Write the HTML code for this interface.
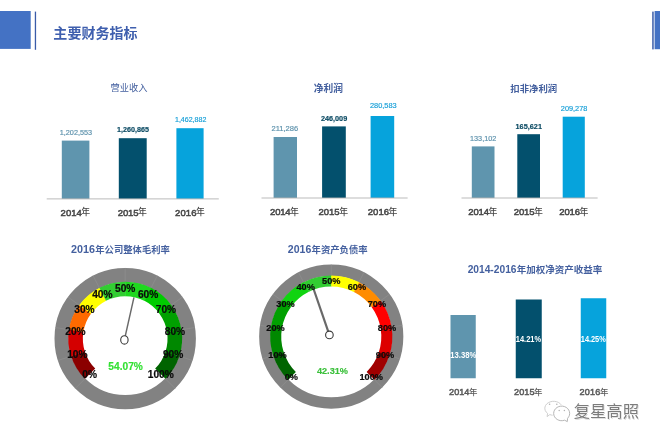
<!DOCTYPE html>
<html lang="zh"><head><meta charset="utf-8"><title>主要财务指标</title>
<style>
html,body{margin:0;padding:0;background:#fff;}
body{width:660px;height:440px;overflow:hidden;font-family:"Liberation Sans",sans-serif;}
svg{display:block;will-change:transform;font-family:"Liberation Sans",sans-serif;}
</style></head><body>
<svg width="660" height="440" viewBox="0 0 660 440">
<rect x="0" y="11" width="30.7" height="37.9" fill="#4472c4"/>
<rect x="34.8" y="11.6" width="1.3" height="38.2" fill="#3a5ca8"/>
<rect x="652.2" y="11.6" width="1.5" height="37.8" fill="#3a5ca8"/>
<rect x="654.6" y="11" width="5.4" height="38.2" fill="#4472c4"/>
<text x="53.37" y="38.13" font-size="14.02" font-weight="bold" fill="#3f5fae" font-family="'Liberation Sans','Noto Sans CJK SC',sans-serif">主要财务指标</text>
<text x="110.52" y="91.36" font-size="9.28" fill="#44609f" font-family="'Liberation Sans','Noto Sans CJK SC',sans-serif">营业收入</text>
<rect x="61.8" y="140.6" width="27.6" height="58.3" fill="#5f95ae"/>
<rect x="118.8" y="138.2" width="27.9" height="60.7" fill="#03506d"/>
<rect x="176.4" y="128.2" width="27.2" height="70.7" fill="#06a3dc"/>
<rect x="46.7" y="198.45" width="172.1" height="0.9" fill="#b3b3b3"/>
<text transform="translate(59.75 134.64) scale(1.0 0.9)" font-size="7.28" fill="#5f93ad" stroke="#5f93ad" stroke-width="0.18">1,202,553</text>
<text transform="translate(117.05 132.31) scale(1.0 0.9)" font-size="7.18" font-weight="bold" fill="#0b4a63" stroke="#0b4a63" stroke-width="0.18">1,260,865</text>
<text transform="translate(174.96 121.67) scale(1.0 0.9)" font-size="7.06" fill="#1aa0d8" stroke="#1aa0d8" stroke-width="0.18">1,462,882</text>
<text x="60.62" y="215.6" font-size="9.5" fill="#464646" stroke="#464646" stroke-width=".5" letter-spacing="-0.01">2014</text><text x="81.35" y="215.47" font-size="8.83" font-weight="500" fill="#464646" font-family="'Liberation Sans','Noto Sans CJK SC',sans-serif">年</text>
<text x="117.82" y="215.6" font-size="9.5" fill="#464646" stroke="#464646" stroke-width=".5" letter-spacing="-0.13">2015</text><text x="137.95" y="215.47" font-size="8.83" font-weight="500" fill="#464646" font-family="'Liberation Sans','Noto Sans CJK SC',sans-serif">年</text>
<text x="175.02" y="215.6" font-size="9.5" fill="#464646" stroke="#464646" stroke-width=".5" letter-spacing="0.1">2016</text><text x="196.05" y="215.47" font-size="8.83" font-weight="500" fill="#464646" font-family="'Liberation Sans','Noto Sans CJK SC',sans-serif">年</text>
<text x="313.77" y="91.78" font-size="9.72" font-weight="bold" fill="#44609f" font-family="'Liberation Sans','Noto Sans CJK SC',sans-serif">净利润</text>
<rect x="273.6" y="137" width="23.4" height="61" fill="#5f95ae"/>
<rect x="322.1" y="126.4" width="23.7" height="71.6" fill="#03506d"/>
<rect x="370.6" y="116" width="23.6" height="82" fill="#06a3dc"/>
<rect x="261.5" y="197.55" width="146.1" height="0.9" fill="#b3b3b3"/>
<text transform="translate(271.42 131.24) scale(1.0 0.9)" font-size="7.58" fill="#5f93ad" stroke="#5f93ad" stroke-width="0.18">211,286</text>
<text transform="translate(320.95 121.15) scale(1.0 0.9)" font-size="7.28" font-weight="bold" fill="#0b4a63" stroke="#0b4a63" stroke-width="0.18">246,009</text>
<text transform="translate(369.93 108.39) scale(1.0 0.9)" font-size="7.41" fill="#1aa0d8" stroke="#1aa0d8" stroke-width="0.18">280,583</text>
<text x="270.12" y="215.4" font-size="9.5" fill="#464646" stroke="#464646" stroke-width=".5" letter-spacing="-0.21">2014</text><text x="290.05" y="215.27" font-size="8.83" font-weight="500" fill="#464646" font-family="'Liberation Sans','Noto Sans CJK SC',sans-serif">年</text>
<text x="318.52" y="215.4" font-size="9.5" fill="#464646" stroke="#464646" stroke-width=".5" letter-spacing="-0">2015</text><text x="339.15" y="215.27" font-size="8.83" font-weight="500" fill="#464646" font-family="'Liberation Sans','Noto Sans CJK SC',sans-serif">年</text>
<text x="367.72" y="215.4" font-size="9.5" fill="#464646" stroke="#464646" stroke-width=".5" letter-spacing="0.05">2016</text><text x="388.55" y="215.27" font-size="8.83" font-weight="500" fill="#464646" font-family="'Liberation Sans','Noto Sans CJK SC',sans-serif">年</text>
<text x="510.37" y="91.75" font-size="9.39" font-weight="bold" fill="#44609f" font-family="'Liberation Sans','Noto Sans CJK SC',sans-serif">扣非净利润</text>
<rect x="471.8" y="146.4" width="22.7" height="51.6" fill="#5f95ae"/>
<rect x="517.3" y="134.2" width="22.7" height="63.8" fill="#03506d"/>
<rect x="562.7" y="116.7" width="22.1" height="81.3" fill="#06a3dc"/>
<rect x="461.5" y="197.55" width="136.1" height="0.9" fill="#b3b3b3"/>
<text transform="translate(470.05 141.15) scale(1.0 0.9)" font-size="7.28" fill="#5f93ad" stroke="#5f93ad" stroke-width="0.18">133,102</text>
<text transform="translate(515.54 128.76) scale(1.0 0.9)" font-size="7.32" font-weight="bold" fill="#0b4a63" stroke="#0b4a63" stroke-width="0.18">165,621</text>
<text transform="translate(560.83 111.46) scale(1.0 0.9)" font-size="7.33" fill="#1aa0d8" stroke="#1aa0d8" stroke-width="0.18">209,278</text>
<text x="468.32" y="215.3" font-size="9.5" fill="#464646" stroke="#464646" stroke-width=".5" letter-spacing="-0.13">2014</text><text x="488.55" y="215.17" font-size="8.83" font-weight="500" fill="#464646" font-family="'Liberation Sans','Noto Sans CJK SC',sans-serif">年</text>
<text x="513.72" y="215.3" font-size="9.5" fill="#464646" stroke="#464646" stroke-width=".5" letter-spacing="-0.1">2015</text><text x="533.95" y="215.17" font-size="8.83" font-weight="500" fill="#464646" font-family="'Liberation Sans','Noto Sans CJK SC',sans-serif">年</text>
<text x="559.22" y="215.3" font-size="9.5" fill="#464646" stroke="#464646" stroke-width=".5" letter-spacing="-0.1">2016</text><text x="579.45" y="215.17" font-size="8.83" font-weight="500" fill="#464646" font-family="'Liberation Sans','Noto Sans CJK SC',sans-serif">年</text>
<text x="467.65" y="273.13" font-size="10.23" font-weight="bold" fill="#44609f">2014-2016</text><text x="516.85" y="273.33" font-size="9.51" font-weight="bold" fill="#44609f" font-family="'Liberation Sans','Noto Sans CJK SC',sans-serif">年加权净资产收益率</text>
<rect x="450.5" y="315" width="25.25" height="63.25" fill="#5f95ae"/>
<rect x="515.75" y="299.5" width="26" height="78.75" fill="#03506d"/>
<rect x="580.75" y="298.25" width="25.5" height="80" fill="#06a3dc"/>
<text transform="translate(450.22 358.2) scale(0.88 1.0)" font-size="8.74" font-weight="bold" fill="#ffffff">13.38%</text>
<text transform="translate(515.78 342.2) scale(0.88 1.0)" font-size="8.48" font-weight="bold" fill="#ffffff">14.21%</text>
<text transform="translate(580.79 342.2) scale(0.88 1.0)" font-size="8.38" font-weight="bold" fill="#ffffff">14.25%</text>
<text x="449.04" y="395.4" font-size="9.08" fill="#595959" stroke="#595959" stroke-width=".5" letter-spacing="0.05">2014</text><text x="469.12" y="395.28" font-size="8.44" font-weight="500" fill="#595959" font-family="'Liberation Sans','Noto Sans CJK SC',sans-serif">年</text>
<text x="514.04" y="395.4" font-size="9.08" fill="#595959" stroke="#595959" stroke-width=".5" letter-spacing="0.08">2015</text><text x="534.12" y="395.28" font-size="8.44" font-weight="500" fill="#595959" font-family="'Liberation Sans','Noto Sans CJK SC',sans-serif">年</text>
<text x="579.54" y="395.4" font-size="9.08" fill="#595959" stroke="#595959" stroke-width=".5" letter-spacing="0.16">2016</text><text x="599.92" y="395.28" font-size="8.44" font-weight="500" fill="#595959" font-family="'Liberation Sans','Noto Sans CJK SC',sans-serif">年</text>
<text x="71.03" y="253.12" font-size="10.77" font-weight="bold" fill="#44609f">2016</text><text x="95.25" y="253.32" font-size="9.33" font-weight="bold" fill="#44609f" font-family="'Liberation Sans','Noto Sans CJK SC',sans-serif">年公司整体毛利率</text>
<circle cx="125.2" cy="338.6" r="63.58" fill="none" stroke="#828282" stroke-width="14.25"/>
<path d="M84.93 378.87L75.21 388.59M71.04 356.2L57.96 360.45M68.95 329.69L55.37 327.54M79.13 305.13L68 297.04M99.35 287.86L93.1 275.61M125.2 281.65L125.2 267.9M151.05 287.86L157.3 275.61M171.27 305.13L182.4 297.04M181.45 329.69L195.03 327.54M179.36 356.2L192.44 360.45M165.47 378.87L175.19 388.59" stroke="#929292" stroke-width="0.6" fill="none"/>
<path d="M84.93 378.87A56.95 56.95 0 0 1 70.92 355.82L84.83 351.41A42.35 42.35 0 0 0 95.25 368.55Z" fill="#8b0000"/>
<path d="M71.04 356.2A56.95 56.95 0 0 1 69.01 329.3L83.42 331.68A42.35 42.35 0 0 0 84.92 351.69Z" fill="#d40000"/>
<path d="M68.95 329.69A56.95 56.95 0 0 1 79.36 304.8L91.11 313.47A42.35 42.35 0 0 0 83.37 331.98Z" fill="#ff6a00"/>
<path d="M79.13 305.13A56.95 56.95 0 0 1 99.7 287.68L106.24 300.73A42.35 42.35 0 0 0 90.94 313.71Z" fill="#ffff00"/>
<path d="M99.35 287.86A56.95 56.95 0 0 1 125.6 281.65L125.5 296.25A42.35 42.35 0 0 0 105.97 300.87Z" fill="#32cd32"/>
<path d="M125.2 281.65A56.95 56.95 0 0 1 151.41 288.04L144.69 301A42.35 42.35 0 0 0 125.2 296.25Z" fill="#1fd81f"/>
<path d="M151.05 287.86A56.95 56.95 0 0 1 171.51 305.45L159.63 313.95A42.35 42.35 0 0 0 144.43 300.87Z" fill="#00cc00"/>
<path d="M171.27 305.13A56.95 56.95 0 0 1 181.51 330.08L167.07 332.27A42.35 42.35 0 0 0 159.46 313.71Z" fill="#00a000"/>
<path d="M181.45 329.69A56.95 56.95 0 0 1 179.24 356.58L165.38 351.97A42.35 42.35 0 0 0 167.03 331.98Z" fill="#008800"/>
<path d="M179.36 356.2A56.95 56.95 0 0 1 165.47 378.87L155.15 368.55A42.35 42.35 0 0 0 165.48 351.69Z" fill="#006400"/>
<path d="M124.4 339.9L133.95 297.4" stroke="#696969" stroke-width="1.45" fill="none"/>
<ellipse cx="124.4" cy="339.9" rx="3.7" ry="4.2" fill="#fff" stroke="#3a3a3a" stroke-width="1.1"/>
<text transform="translate(89.6 378.1) scale(.98 1.02)" font-size="10.4" font-weight="bold" text-anchor="middle" fill="#0a0a0a" stroke="#0a0a0a" stroke-width=".2">0%</text>
<text transform="translate(77.31 358.06) scale(.98 1.02)" font-size="10.4" font-weight="bold" text-anchor="middle" fill="#0a0a0a" stroke="#0a0a0a" stroke-width=".2">10%</text>
<text transform="translate(75.47 334.62) scale(.98 1.02)" font-size="10.4" font-weight="bold" text-anchor="middle" fill="#0a0a0a" stroke="#0a0a0a" stroke-width=".2">20%</text>
<text transform="translate(84.47 312.9) scale(.98 1.02)" font-size="10.4" font-weight="bold" text-anchor="middle" fill="#0a0a0a" stroke="#0a0a0a" stroke-width=".2">30%</text>
<text transform="translate(102.34 297.64) scale(.98 1.02)" font-size="10.4" font-weight="bold" text-anchor="middle" fill="#0a0a0a" stroke="#0a0a0a" stroke-width=".2">40%</text>
<text transform="translate(125.2 292.15) scale(.98 1.02)" font-size="10.4" font-weight="bold" text-anchor="middle" fill="#0a0a0a" stroke="#0a0a0a" stroke-width=".2">50%</text>
<text transform="translate(148.06 297.64) scale(.98 1.02)" font-size="10.4" font-weight="bold" text-anchor="middle" fill="#0a0a0a" stroke="#0a0a0a" stroke-width=".2">60%</text>
<text transform="translate(165.93 312.9) scale(.98 1.02)" font-size="10.4" font-weight="bold" text-anchor="middle" fill="#0a0a0a" stroke="#0a0a0a" stroke-width=".2">70%</text>
<text transform="translate(174.93 334.62) scale(.98 1.02)" font-size="10.4" font-weight="bold" text-anchor="middle" fill="#0a0a0a" stroke="#0a0a0a" stroke-width=".2">80%</text>
<text transform="translate(173.09 358.06) scale(.98 1.02)" font-size="10.4" font-weight="bold" text-anchor="middle" fill="#0a0a0a" stroke="#0a0a0a" stroke-width=".2">90%</text>
<text transform="translate(160.8 378.1) scale(.98 1.02)" font-size="10.4" font-weight="bold" text-anchor="middle" fill="#0a0a0a" stroke="#0a0a0a" stroke-width=".2">100%</text>
<text transform="translate(125.6 370.1) scale(.98 1.02)" font-size="10.4" font-weight="bold" text-anchor="middle" fill="#33e033" stroke="#33e033" stroke-width=".15">54.07%</text>
<text x="287.83" y="252.82" font-size="10.54" font-weight="bold" fill="#44609f">2016</text><text x="311.55" y="253.02" font-size="9.36" font-weight="bold" fill="#44609f" font-family="'Liberation Sans','Noto Sans CJK SC',sans-serif">年资产负债率</text>
<circle cx="331.25" cy="336.6" r="66.35" fill="none" stroke="#828282" stroke-width="11.5"/>
<path d="M288.05 379.8L280.27 387.58M273.14 355.48L262.68 358.88M270.9 327.04L260.04 325.32M281.82 300.69L272.92 294.22M303.51 282.16L298.52 272.36M331.25 275.5L331.25 264.5M358.99 282.16L363.98 272.36M380.68 300.69L389.58 294.22M391.6 327.04L402.46 325.32M389.36 355.48L399.82 358.88M374.45 379.8L382.23 387.58" stroke="#929292" stroke-width="0.6" fill="none"/>
<path d="M288.05 379.8A61.1 61.1 0 0 1 273.01 355.07L283.54 351.73A50.05 50.05 0 0 0 295.86 371.99Z" fill="#006400"/>
<path d="M273.14 355.48A61.1 61.1 0 0 1 270.97 326.62L281.87 328.43A50.05 50.05 0 0 0 283.65 352.07Z" fill="#008800"/>
<path d="M270.9 327.04A61.1 61.1 0 0 1 282.07 300.34L290.97 306.9A50.05 50.05 0 0 0 281.82 328.77Z" fill="#00a000"/>
<path d="M281.82 300.69A61.1 61.1 0 0 1 303.89 281.97L308.84 291.85A50.05 50.05 0 0 0 290.76 307.18Z" fill="#10d410"/>
<path d="M303.51 282.16A61.1 61.1 0 0 1 331.68 275.5L331.6 286.55A50.05 50.05 0 0 0 308.53 292.01Z" fill="#32cd32"/>
<path d="M331.25 275.5A61.1 61.1 0 0 1 359.37 282.35L354.28 292.16A50.05 50.05 0 0 0 331.25 286.55Z" fill="#ffff00"/>
<path d="M358.99 282.16A61.1 61.1 0 0 1 380.93 301.03L371.95 307.46A50.05 50.05 0 0 0 353.97 292.01Z" fill="#ff8c00"/>
<path d="M380.68 300.69A61.1 61.1 0 0 1 391.66 327.46L380.74 329.12A50.05 50.05 0 0 0 371.74 307.18Z" fill="#ff0000"/>
<path d="M391.6 327.04A61.1 61.1 0 0 1 389.23 355.89L378.74 352.4A50.05 50.05 0 0 0 380.68 328.77Z" fill="#dd0000"/>
<path d="M389.36 355.48A61.1 61.1 0 0 1 374.45 379.8L366.64 371.99A50.05 50.05 0 0 0 378.85 352.07Z" fill="#a00000"/>
<path d="M329.4 334.9L313.5 288.75" stroke="#696969" stroke-width="2.2" fill="none"/>
<ellipse cx="329.4" cy="334.9" rx="3.8" ry="3.8" fill="#fff" stroke="#3a3a3a" stroke-width="1.1"/>
<text transform="translate(291.32 380.07) scale(.98 1.02)" font-size="9.4" font-weight="bold" text-anchor="middle" fill="#0a0a0a" stroke="#0a0a0a" stroke-width=".2">0%</text>
<text transform="translate(277.54 357.58) scale(.98 1.02)" font-size="9.4" font-weight="bold" text-anchor="middle" fill="#0a0a0a" stroke="#0a0a0a" stroke-width=".2">10%</text>
<text transform="translate(275.47 331.3) scale(.98 1.02)" font-size="9.4" font-weight="bold" text-anchor="middle" fill="#0a0a0a" stroke="#0a0a0a" stroke-width=".2">20%</text>
<text transform="translate(285.56 306.94) scale(.98 1.02)" font-size="9.4" font-weight="bold" text-anchor="middle" fill="#0a0a0a" stroke="#0a0a0a" stroke-width=".2">30%</text>
<text transform="translate(305.61 289.81) scale(.98 1.02)" font-size="9.4" font-weight="bold" text-anchor="middle" fill="#0a0a0a" stroke="#0a0a0a" stroke-width=".2">40%</text>
<text transform="translate(331.25 283.66) scale(.98 1.02)" font-size="9.4" font-weight="bold" text-anchor="middle" fill="#0a0a0a" stroke="#0a0a0a" stroke-width=".2">50%</text>
<text transform="translate(356.89 289.81) scale(.98 1.02)" font-size="9.4" font-weight="bold" text-anchor="middle" fill="#0a0a0a" stroke="#0a0a0a" stroke-width=".2">60%</text>
<text transform="translate(376.94 306.94) scale(.98 1.02)" font-size="9.4" font-weight="bold" text-anchor="middle" fill="#0a0a0a" stroke="#0a0a0a" stroke-width=".2">70%</text>
<text transform="translate(387.03 331.3) scale(.98 1.02)" font-size="9.4" font-weight="bold" text-anchor="middle" fill="#0a0a0a" stroke="#0a0a0a" stroke-width=".2">80%</text>
<text transform="translate(384.96 357.58) scale(.98 1.02)" font-size="9.4" font-weight="bold" text-anchor="middle" fill="#0a0a0a" stroke="#0a0a0a" stroke-width=".2">90%</text>
<text transform="translate(371.18 380.07) scale(.98 1.02)" font-size="9.4" font-weight="bold" text-anchor="middle" fill="#0a0a0a" stroke="#0a0a0a" stroke-width=".2">100%</text>
<text transform="translate(332.45 373.53) scale(.98 1.02)" font-size="9.4" font-weight="bold" text-anchor="middle" fill="#3cc03c" stroke="#3cc03c" stroke-width=".15">42.31%</text>
<text x="574.46" y="417.79" font-size="16.34" fill="#d4d4d4" font-family="'Liberation Sans','Noto Sans CJK SC',sans-serif">复星高照</text>
<text x="573.66" y="416.99" font-size="16.34" fill="#7c7c7c" stroke="#fff" stroke-width="0.57" paint-order="stroke" font-family="'Liberation Sans','Noto Sans CJK SC',sans-serif">复星高照</text>
<g stroke-width="0.85" stroke-linejoin="round">
<path d="M549.8 414.6L547.1 416.6L547.6 413.4A8.8 7 0 1 1 549.8 414.6Z" fill="#fff" stroke="#c6c6c6"/>
<path d="M564.6 420.2L567.3 421.6L567.6 418.3A8 7.3 0 1 0 564.6 420.2Z" fill="#fff" stroke="#fff" stroke-width="2.6"/>
<path d="M564.6 420.2L567.3 421.6L567.6 418.3A8 7.3 0 1 0 564.6 420.2Z" fill="#fff" stroke="#a9a9a9"/>
</g>
<g fill="#b4b4b4"><circle cx="549.6" cy="404.2" r="0.8"/><circle cx="556.8" cy="404.2" r="0.8"/><circle cx="559.2" cy="410.4" r="0.75"/><circle cx="564.4" cy="410.4" r="0.75"/></g>
</svg>
</body></html>
